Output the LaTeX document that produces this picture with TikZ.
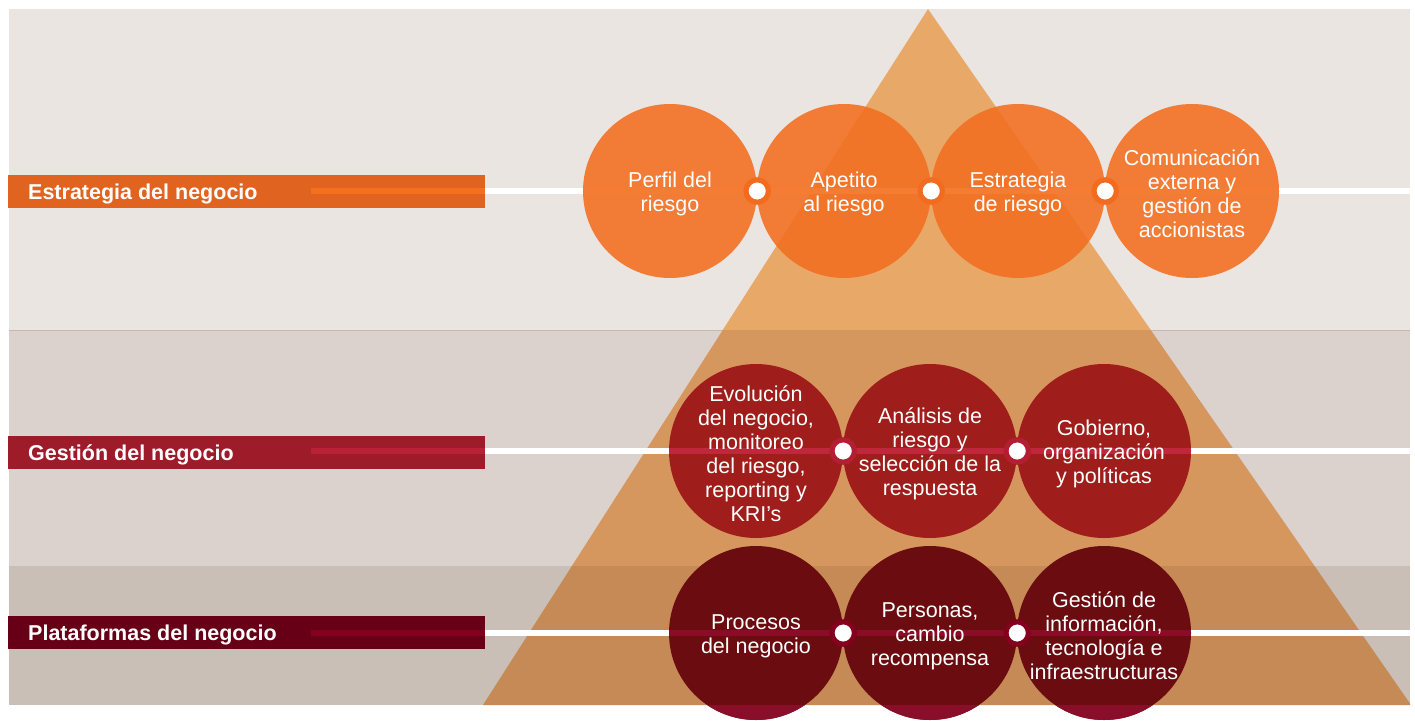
\documentclass[tikz,border=0pt]{standalone}
\usepackage{fontspec}
\setmainfont{Liberation Sans}
\definecolor{bandA}{HTML}{EAE5E1}
\definecolor{bandB}{HTML}{DBD2CD}
\definecolor{bandC}{HTML}{C9BFB6}
\definecolor{bandline}{HTML}{C5B8AE}
\definecolor{triA}{HTML}{E8A868}
\definecolor{triB}{HTML}{D5975E}
\definecolor{triC}{HTML}{C58A55}
\definecolor{barA}{HTML}{E0631F}
\definecolor{barB}{HTML}{9E1B2A}
\definecolor{barC}{HTML}{670016}
\definecolor{stripeA}{HTML}{F4701F}
\definecolor{stripeB}{HTML}{B92236}
\definecolor{stripeC}{HTML}{86001E}
\definecolor{circA}{HTML}{F37023}
\definecolor{circB}{HTML}{9E1A19}
\definecolor{circC}{HTML}{68080E}
\definecolor{circClow}{HTML}{8A0E2A}
\definecolor{ringA}{HTML}{F26B1F}
\definecolor{ringB}{HTML}{B41E33}
\definecolor{ringC}{HTML}{83011C}
\definecolor{lineA}{HTML}{F47D33}
\definecolor{lineB}{HTML}{BF283B}
\definecolor{lineC}{HTML}{8B0B28}
\begin{document}
\begin{tikzpicture}[x=1pt,y=-1pt,
  bar/.style={rectangle, minimum width=477pt, minimum height=33pt, inner sep=0pt, anchor=west},
  labtext/.style={anchor=base west, inner sep=0pt, text=white, font=\fontsize{21.5}{24}\selectfont\bfseries},
  circ/.style={circle, minimum size=174pt, inner sep=0pt},
  ctext/.style={align=center, inner sep=0pt, text=white, yshift=-3pt, font=\fontsize{21.5}{24}\selectfont},
  dot/.style={circle, minimum size=22.4pt, inner sep=0pt, fill=white, line width=5.1pt},
  wline/.style={white, line width=6pt},
  tline/.style={line width=6pt}
]
\useasboundingbox (0,0) rectangle (1415,720);
\fill[white] (0,0) rectangle (1415,720);
% bands
\fill[bandA] (9,9) rectangle (1410,330);
\fill[bandB] (9,330) rectangle (1410,566);
\fill[bandC] (9,566) rectangle (1410,705);
\draw[bandline, line width=1pt] (9,330) -- (1410,330);
% pyramid
\begin{scope}
  \clip (9,9) rectangle (1410,330);
  \fill[triA] (928,9) -- (483,705) -- (1411,705) -- cycle;
\end{scope}
\begin{scope}
  \clip (9,330.5) rectangle (1410,566);
  \fill[triB] (928,9) -- (483,705) -- (1411,705) -- cycle;
\end{scope}
\begin{scope}
  \clip (9,566) rectangle (1410,705);
  \fill[triC] (928,9) -- (483,705) -- (1411,705) -- cycle;
\end{scope}
% line ends
\coordinate (sA) at (311,191);
\coordinate (eA) at (1410,191);
\coordinate (sB) at (311,451);
\coordinate (eB) at (1410,451);
\coordinate (sC) at (311,633);
\coordinate (eC) at (1410,633);
\draw[wline] (sA) -- (eA);
\draw[wline] (sB) -- (eB);
\draw[wline] (sC) -- (eC);
% label bars
\node[bar, fill=barA] (barA) at (8,191.5) {};
\node[bar, fill=barB] (barB) at (8,452.5) {};
\node[bar, fill=barC] (barC) at (8,632.5) {};
\draw[tline, stripeA] (sA) -- (barA.east |- sA);
\draw[tline, stripeB] (sB) -- (barB.east |- sB);
\draw[tline, stripeC] (sC) -- (barC.east |- sC);
\node[labtext] (labA) at (28,199.2) {Estrategia del negocio};
\node[labtext] (labB) at (28,460.2) {Gestión del negocio};
\node[labtext] (labC) at (28,640.2) {Plataformas del negocio};
% circles
\node[circ, fill=circA, fill opacity=0.9] (a1) at (670,191) {};
\node[circ, fill=circA, fill opacity=0.9] (a2) at (844,191) {};
\node[circ, fill=circA, fill opacity=0.9] (a3) at (1018,191) {};
\node[circ, fill=circA, fill opacity=0.9] (a4) at (1192,191) {};
\node[circ, fill=circB, fill opacity=0.97] (b1) at (756,451) {};
\node[circ, fill=circB, fill opacity=0.97] (b2) at (930,451) {};
\node[circ, fill=circB, fill opacity=0.97] (b3) at (1104,451) {};
\node[circ, fill=circC, fill opacity=0.97] (c1) at (756,633) {};
\node[circ, fill=circC, fill opacity=0.97] (c2) at (930,633) {};
\node[circ, fill=circC, fill opacity=0.97] (c3) at (1104,633) {};
\begin{scope}
  \clip (0,705) rectangle (1415,720);
  \fill[circClow] (c1) circle (87);
  \fill[circClow] (c2) circle (87);
  \fill[circClow] (c3) circle (87);
\end{scope}
% tinted lines inside circles
\draw[tline, lineA] (a1.west) -- (a4.east);
\draw[tline, lineB] (b1.west) -- (b3.east);
\draw[tline, lineC] (c1.west) -- (c3.east);
% junction dots
\node[dot, draw=ringA] (da1) at (a1.east) {};
\node[dot, draw=ringA] (da2) at (a2.east) {};
\node[dot, draw=ringA] (da3) at (a3.east) {};
\node[dot, draw=ringB] (db1) at (b1.east) {};
\node[dot, draw=ringB] (db2) at (b2.east) {};
\node[dot, draw=ringC] (dc1) at (c1.east) {};
\node[dot, draw=ringC] (dc2) at (c2.east) {};
% texts
\node[ctext] (ta1) at (a1) {Perfil del\\riesgo};
\node[ctext] (ta2) at (a2) {Apetito\\al riesgo};
\node[ctext] (ta3) at (a3) {Estrategia\\de riesgo};
\node[ctext] (ta4) at (a4) {Comunicación\\externa y\\gestión de\\accionistas};
\node[ctext] (tb1) at (b1) {Evolución\\del negocio,\\monitoreo\\del riesgo,\\reporting y\\KRI’s};
\node[ctext] (tb2) at (b2) {Análisis de\\riesgo y\\selección de la\\respuesta};
\node[ctext] (tb3) at (b3) {Gobierno,\\organización\\y políticas};
\node[ctext] (tc1) at (c1) {Procesos\\del negocio};
\node[ctext] (tc2) at (c2) {Personas,\\cambio\\recompensa};
\node[ctext] (tc3) at (c3) {Gestión de\\información,\\tecnología e\\infraestructuras};
\end{tikzpicture}
\end{document}
